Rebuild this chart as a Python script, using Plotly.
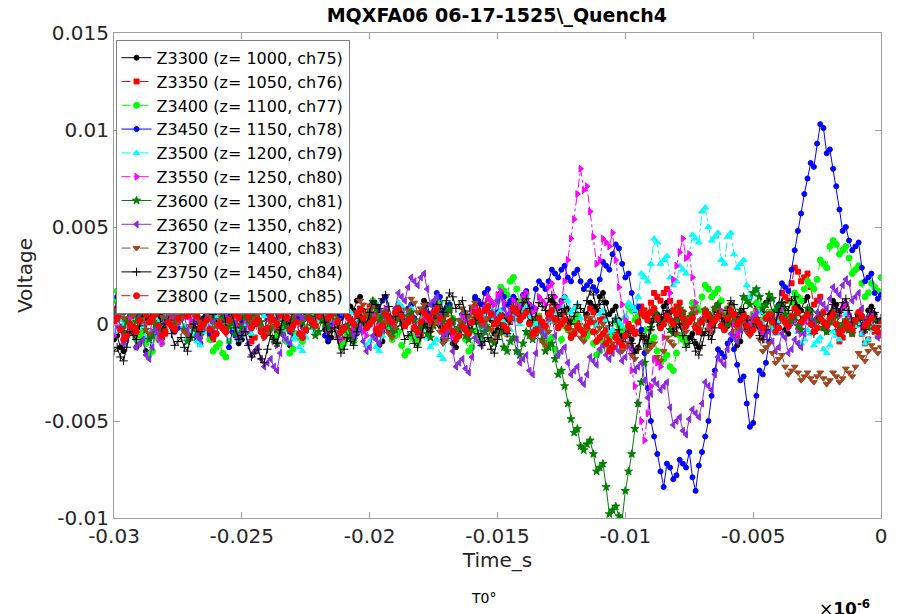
import plotly.graph_objects as go

# sampling: -0.03 s to 0 s, step 0.125 ms
t_start = -0.03
t_step = 0.000125

labels = [
    "Z3300 (z= 1000, ch75)", "Z3350 (z= 1050, ch76)", "Z3400 (z= 1100, ch77)",
    "Z3450 (z= 1150, ch78)", "Z3500 (z= 1200, ch79)", "Z3550 (z= 1250, ch80)",
    "Z3600 (z= 1300, ch81)", "Z3650 (z= 1350, ch82)", "Z3700 (z= 1400, ch83)",
    "Z3750 (z= 1450, ch84)", "Z3800 (z= 1500, ch85)",
]

# voltages in units of 0.1 mV (1e-4 V)
z3300 = [-8, -6, -12, -14, -5, 5, 3, -12, -10, -8, -14, -16, -6, 4, 2, 0, 8, 10, 4, 2,
         10, 12, 6, 4, 12, 14, 8, 1, 3, 5, -4, -6, 2, 11, 9, 3, 5, 7, -3, -10,
         -8, -2, -4, -6, 3, 9, 7, 5, 11, 13, 6, -4, -2, 0, -9, -11, -5, 3, 1, -1,
         6, 12, 10, 2, 4, 6, -3, -9, -7, 1, -1, -3, 5, 11, 9, 7, 12, 14, 7, 0,
         2, 4, -5, -11, -9, -1, -3, -5, 4, 10, 8, 1, 3, 5, -2, -4, 6, 12, 10, 3,
         5, 7, -1, -8, -6, -4, -10, -12, -4, 5, 3, 1, 8, 13, 11, 4, 6, 8, 2, -5,
         -3, 6, 4, 2, 9, 14, 12, 5, 7, 9, 1, -7, -5, 0, -2, -4, 6, 12, 10, 8,
         12, 14, 8, 1, 3, 5, -3, -5, 5, 11, 9, 7, 14, 16, 11, 5, 7, 9, 2, -6,
         -4, -2, -8, -14, -12, -4, -6, -8, 1, 7, 5, 3, 9, 11, 6, 1, 3, 5, -2, -9,
         -7, -5, -10, -12, -5, 4, 2, 0, 7, 9, 4, -3, -1, 1, -6, -11, -9, -1, -3, -5,
         3, 10, 8, 6, 11, 13, 6, 0, 2, 4, -3, -5, 4, 11, 9, 7, 12, 14, 7, 1,
         3, 5, -2, -4, 5, 12, 10, 6, 8, 10, 4, -3, -1, 5, 3, 1, 7, 9, 5, 0, 2]
z3350 = [3, 8, 6, -1, 1, 3, -4, -6, 2, 9, 7, 2, 4, 6, -2, -7, -5, 2, 0, -2,
         5, 11, 9, 4, 6, 8, 2, -5, -3, -1, -6, -8, -1, 6, 4, 2, 8, 10, 5, -1,
         1, 3, -4, -9, -7, 0, -2, -4, 3, 8, 6, 4, 9, 11, 5, -2, 0, 2, -5, -7,
         -3, 4, 2, 0, 7, 9, 4, -3, -1, 1, -6, -10, -8, -1, -3, -5, 2, 8, 6, 4,
         9, 11, 5, -1, 1, 3, -3, -5, 2, 8, 6, 1, 3, 5, -2, -8, -6, 1, -1, -3,
         4, 10, 8, 3, 5, 7, 1, -6, -4, 0, -2, -4, 3, 9, 7, 5, 10, 12, 6, 0,
         2, 4, -3, -5, 1, 7, 5, 3, 9, 11, 6, 0, 2, 4, -2, -4, 3, 9, 7, 2,
         4, 6, 0, -6, -4, 1, -1, -3, 3, 8, 6, 0, 2, 4, -3, -8, -6, -4, -9, -11,
         -6, 0, -2, -4, 3, 9, 7, 5, 11, 16, 14, 12, 16, 18, 12, 7, 9, 11, 6, 1,
         3, 5, -1, -3, 2, 7, 5, 3, 8, 10, 4, -2, 0, 2, -4, -6, -1, 5, 3, 1,
         5, 7, 2, -4, -2, 6, 4, 2, 9, 16, 14, 12, 21, 29, 27, 22, 24, 26, 19, 10,
         12, 14, 6, -1, 1, 3, -4, -9, -7, -1, -3, -5, 2, 4, -5, -10, -8, -2, -4, -6, 1]
z3400 = [12, 17, 15, 6, 8, 10, 3, -8, -6, -4, -10, -16, -14, -6, -8, -10, -3, 6, 4, 2,
         9, 16, 14, 8, 10, 12, 4, -4, -2, 0, -8, -14, -12, -10, -15, -17, -9, -2, -4, -6,
         3, 10, 8, 6, 12, 17, 15, 7, 9, 11, 3, -6, -4, -2, -9, -15, -13, -5, -7, -9,
         -2, 6, 4, 2, 9, 11, 6, -1, 1, 3, -5, -12, -10, -5, -7, -9, -2, 5, 3, 1,
         7, 12, 10, 3, 5, 7, -1, -8, -6, -4, -11, -16, -14, -6, -8, -10, -3, 4, 2, 0,
         6, 13, 11, 6, 8, 10, 3, -5, -3, -1, -8, -14, -12, -4, -6, -8, 1, 9, 7, 5,
         12, 19, 17, 15, 22, 24, 18, 11, 13, 15, 7, 0, 2, 4, -4, -11, -9, -7, -13, -15,
         -8, -1, -3, -5, 2, 4, -2, -8, -6, -4, -10, -16, -14, -9, -11, -13, -6, 1, -1, -3,
         3, 9, 7, 2, 4, 6, -3, -11, -9, -7, -14, -20, -18, -16, -22, -24, -15, -6, -8, -10,
         2, 11, 9, 7, 14, 20, 18, 14, 16, 18, 12, 6, 8, 10, 3, -4, -2, 3, 1, -1,
         5, 11, 9, 2, 4, 6, -1, -3, 3, 9, 7, 5, 11, 16, 14, 12, 18, 22, 20, 18,
         23, 33, 31, 29, 40, 43, 41, 36, 38, 40, 34, 26, 28, 30, 21, 14, 16, 21, 19, 17, 24]
z3450 = [5, 14, 12, 6, 8, 16, 14, 4, 6, 12, 10, 1, 3, 14, 12, 7, 9, 11, 4, -4,
         -2, 8, 6, 4, 10, 1, -8, -10, 2, 4, -5, -7, 7, 9, 3, -4, -12, -4, -6, -8,
         2, 10, 8, 3, 5, 7, -3, -5, 6, 13, 11, 2, 4, 6, -2, -4, 9, 11, 3, -6,
         -4, 4, 2, 0, 7, 9, -6, -8, -1, 7, 5, 3, 10, 12, 3, -7, -5, 4, 2, 0,
         6, 11, 9, 7, 12, 14, 4, -4, -2, 7, 5, 3, 8, 10, 3, -5, -3, 8, 6, 4,
         10, 16, 14, 6, 8, 10, 2, -6, -4, 5, 3, 1, 7, 14, 12, 10, 16, 18, 10, 4,
         6, 16, 14, 10, 12, 14, 8, 6, 15, 17, 10, 8, 18, 22, 20, 18, 22, 28, 26, 24,
         28, 30, 24, 22, 26, 28, 22, 18, 20, 22, 19, 17, 23, 32, 30, 28, 36, 41, 39, 31,
         24, 26, 16, 7, 9, -3, -15, -33, -50, -58, -67, -76, -84, -72, -74, -80, -78, -70, -72, -74,
         -66, -79, -86, -73, -66, -58, -50, -37, -24, -13, -15, -17, -10, -8, -13, -21, -29, -27, -41, -53,
         -51, -37, -24, -26, -20, -9, 2, 0, 10, 21, 19, 17, 28, 38, 48, 57, 67, 75, 83, 81,
         93, 103, 101, 88, 90, 80, 71, 59, 48, 50, 43, 38, 40, 42, 29, 22, 24, 26, 16, 13, 15]
z3500 = [-4, 4, 2, 0, 6, 8, 3, -4, -2, 0, -7, -9, -3, 3, 1, -1, 5, 10, 8, 2,
         4, 6, -1, -7, -5, -3, -9, -11, -4, 2, 0, -2, 4, 9, 7, 1, 3, 5, -2, -8,
         -6, -1, -3, -5, 2, 8, 6, 4, 10, 12, 7, 0, 2, 4, -3, -10, -8, -6, -12, -14,
         -7, 0, -2, -4, 3, 10, 8, 6, 12, 17, 15, 9, 11, 13, 6, -1, 1, 3, -4, -11,
         -9, -7, -12, -14, -6, 2, 0, -2, 5, 11, 9, 4, 6, 8, 2, -5, -3, -1, -7, -12,
         -10, -8, -16, -18, -8, -1, -3, -5, 2, 8, 6, 1, 3, 5, -1, -3, 4, 10, 8, 3,
         5, 7, 1, -5, -3, 4, 2, 0, 7, 9, 4, -2, 0, 2, -4, -6, 1, 8, 6, 4,
         9, 14, 12, 6, 8, 10, 3, -4, -2, 3, 1, -1, 5, 7, 2, -5, -3, 3, 1, -1,
         4, 11, 9, 7, 14, 26, 24, 22, 31, 44, 42, 31, 33, 35, 24, 20, 22, 30, 28, 26,
         36, 46, 44, 42, 58, 60, 50, 43, 45, 47, 33, 31, 45, 47, 36, 29, 31, 33, 20, 14,
         16, 18, 6, 0, 2, 4, -3, -5, 1, 7, 5, 0, 2, 4, -4, -10, -8, -3, -5, -11,
         -9, -7, -13, -15, -11, -4, -6, -8, -2, 5, 3, -3, -1, 1, -5, -10, -8, -1, -3, -5, 2]
z3550 = [-6, -1, -3, -5, 1, 3, -2, -4, 3, 5, 0, -6, -4, -2, -8, -10, -3, 4, 2, -2,
         0, 2, -3, -5, 2, 7, 5, -1, 1, 3, -2, -7, -5, 1, -1, -3, 3, 5, -1, -6,
         -4, 2, 0, -2, 3, 5, -1, -7, -5, -3, -9, -11, -4, 3, 1, -1, 4, 6, 0, -5,
         -3, 4, 2, 0, 5, 7, 1, -4, -2, 0, -6, -8, -2, 4, 2, -3, -1, 1, -4, -6,
         -1, 5, 3, 1, 6, 8, 2, -4, -2, 3, 1, -1, 4, 6, 0, -5, -3, 3, 1, -1,
         4, 6, 1, -5, -3, -1, -6, -8, -2, 4, 2, 0, 6, 8, 3, 1, 8, 14, 12, 10,
         15, 17, 11, 5, 7, 12, 10, 8, 14, 16, 10, 6, 8, 14, 12, 10, 19, 21, 14, 9,
         11, 22, 33, 44, 54, 67, 80, 69, 71, 58, 45, 31, 33, 44, 42, 40, 47, 33, 19, 10,
         2, -11, -24, -32, -41, -50, -60, -46, -32, -18, -20, -22, -7, 5, 16, 23, 30, 37, 44, 34,
         36, 24, 11, 0, 2, 4, -2, -4, 3, 9, 7, 2, 4, 6, 0, -5, -3, 3, 1, -1,
         4, 6, 1, -4, -2, 4, 2, 0, 6, 8, 3, -2, 0, 2, -3, -5, 1, 7, 5, 0,
         2, 4, -1, -3, 3, 8, 6, 4, 9, 11, 5, -1, 1, 3, -2, -4, 2, 6, 4, -1, 1]
z3600 = [4, 6, -2, -4, 1, 8, 6, 1, 3, 5, -3, -8, -6, 0, -2, -4, 2, 7, 5, 0,
         2, 4, -3, -9, -7, -2, -4, -6, 1, 6, 4, 2, 7, 9, 3, -3, -1, 1, -5, -7,
         -2, 4, 2, 0, 5, 7, 1, -6, -4, -2, -8, -10, -5, 1, -1, -3, 3, 8, 6, 1,
         3, 5, -1, -6, -4, 2, 0, -2, 4, 6, 2, -5, -3, -1, -6, -8, -2, 3, 1, -1,
         5, 10, 8, 2, 4, 6, 0, -5, -3, 3, 1, -1, 4, 6, 2, -4, -2, 0, -5, -7,
         -1, 5, 3, 1, 6, 8, 2, -4, -2, 0, -6, -8, -3, 3, 1, -6, -4, -2, -8, -10,
         -6, -4, -12, -14, -9, -7, -14, -16, -10, -4, -6, -8, -4, -2, -8, -14, -12, -10, -18, -26,
         -24, -32, -41, -49, -56, -54, -63, -65, -62, -60, -67, -76, -74, -72, -84, -98, -96, -94, -99, -101,
         -86, -76, -67, -54, -41, -30, -20, -11, -2, 6, 4, -1, 1, 3, -3, -5, 2, 8, 6, 1,
         3, 5, -2, -4, 1, 7, 5, 3, 8, 10, 4, -2, 0, 5, 3, 1, 7, 14, 12, 10,
         16, 18, 14, 8, 10, 15, 13, 7, 9, 11, 5, 0, 2, 4, -1, -3, 3, 8, 6, 0,
         2, 4, -2, -4, 1, 6, 4, -2, 0, 2, -3, -5, 1, 5, 3, -3, -1, 4, 2, -2, 0]
z3650 = [3, 5, -2, -10, -8, -2, -4, -12, -10, -8, -16, -18, -12, -3, -5, -7, 1, 8, 6, 4,
         9, 11, 4, -3, -1, 1, -6, -8, -2, 5, 3, 1, 7, 13, 11, 4, 6, 8, 0, -7,
         -5, -3, -10, -16, -14, -12, -18, -22, -20, -18, -22, -24, -15, -6, -8, -10, -2, 7, 5, 3,
         10, 15, 13, 11, 15, 17, 9, 2, 4, 14, 12, 6, 8, 10, 2, -6, -4, -2, -9, -14,
         -12, -6, -8, -10, -3, 4, 2, 0, 8, 16, 14, 12, 19, 24, 22, 20, 24, 26, 18, 10,
         12, 14, 4, -7, -5, -3, -14, -22, -20, -18, -23, -25, -17, -7, -9, -11, -1, 8, 6, 4,
         12, 14, 8, 4, 6, 8, -8, -20, -18, -16, -24, -26, -15, -2, -4, -6, 3, 5, -6, -16,
         -14, -12, -20, -26, -24, -22, -29, -31, -26, -17, -19, -21, -13, -11, -16, -18, -15, -12, -14, -19,
         -17, -11, -13, -24, -22, -20, -29, -38, -36, -29, -31, -34, -32, -30, -43, -52, -50, -48, -55, -57,
         -49, -44, -46, -48, -41, -30, -32, -34, -26, -17, -19, -21, -13, -5, -7, -9, -3, 2, 0, -2,
         3, 5, -2, -8, -6, -4, -9, -14, -12, -5, -7, -15, -13, -8, -10, -12, -5, 4, 2, 0,
         6, 12, 10, 8, 13, 19, 17, 15, 20, 23, 21, 12, 14, 16, 8, 1, 3, 5, -2, -7, -5]
z3700 = [2, 7, 5, 3, 8, 10, 4, -2, 0, 2, -3, -5, 1, 8, 6, 4, 9, 11, 5, -1,
         1, 3, -4, -6, -1, 5, 3, 1, 7, 9, 4, -2, 0, 2, -3, -5, 2, 8, 6, 4,
         10, 12, 7, 1, 3, 5, -2, -7, -5, 1, -1, -3, 4, 10, 8, 3, 5, 7, 1, -5,
         -3, 3, 1, -1, 5, 11, 9, 4, 6, 8, 2, -4, -2, 4, 2, 0, 6, 12, 10, 5,
         7, 9, 3, -3, -1, 1, -5, -7, -2, 5, 3, 1, 7, 13, 11, 6, 8, 10, 4, -2,
         0, 2, -4, -10, -8, -1, -3, -5, 2, 8, 6, 4, 9, 11, 5, -1, 1, 3, -3, -8,
         -6, 0, -2, -4, 3, 9, 7, 2, 4, 6, 0, -7, -5, -3, -9, -11, -4, 3, 1, -1,
         5, 7, 2, -5, -3, -1, -7, -9, -3, 3, 1, -4, -2, 0, -6, -12, -10, -6, -8, -14,
         -12, -10, -16, -18, -13, -6, -8, -14, -12, -10, -17, -19, -14, -7, -9, -11, -5, 0, -2, -4,
         3, 8, 6, 0, 2, 4, -3, -5, 1, 7, 5, 3, 8, 10, 4, -2, 0, 2, -4, -6,
         -2, 0, -8, -14, -12, -10, -15, -20, -18, -16, -22, -26, -24, -22, -25, -29, -27, -25, -28, -30,
         -27, -25, -28, -31, -29, -25, -27, -30, -28, -23, -25, -27, -22, -15, -17, -19, -14, -11, -13, -15, -12]
z3750 = [-14, -12, -17, -19, -12, -4, -6, -8, -1, 6, 4, 2, 8, 10, 5, -2, 0, 2, -5, -11,
         -9, -7, -12, -14, -7, 0, -2, -4, 3, 9, 7, 5, 11, 13, 8, 1, 3, 5, -2, -8,
         -6, -4, -11, -17, -15, -13, -18, -20, -13, -6, -8, -10, -3, 4, 2, 0, 7, 14, 12, 10,
         15, 17, 11, 4, 6, 8, 1, -6, -4, -2, -8, -15, -13, -7, -9, -11, -4, 3, 1, -1,
         6, 12, 10, 8, 13, 15, 9, 2, 4, 6, -1, -8, -6, -4, -10, -12, -7, 0, -2, -4,
         3, 10, 8, 6, 12, 16, 14, 8, 10, 12, 5, -2, 0, 2, -5, -11, -9, -7, -13, -15,
         -8, -1, -3, -5, 2, 9, 7, 5, 11, 13, 8, 2, 4, 11, 9, 7, 13, 15, 10, 4,
         6, 8, 2, 0, 4, 10, 8, 6, 12, 17, 15, 8, 10, 12, 5, -1, 1, 3, -3, -9,
         -7, -5, -10, -15, -13, -6, -8, -10, -3, 3, 1, -1, 5, 7, 2, -4, -2, 0, -6, -12,
         -10, -8, -14, -16, -11, -4, -6, -8, -2, 5, 3, 1, 7, 12, 10, 4, 6, 8, 2, -4,
         -2, 0, -6, -8, -3, 4, 2, 0, 6, 11, 9, 7, 12, 14, 8, 2, 4, 6, 0, -5,
         -3, 3, 1, -1, 5, 10, 8, 6, 11, 13, 7, 1, 3, 5, -1, -3, 2, 8, 6, 1, 3]
z3800 = [1, 3, -3, -8, -6, 0, -2, -4, 2, 7, 5, 1, 3, 5, -1, -6, -4, 1, -1, -3,
         3, 8, 6, 4, 8, 10, 4, -2, 0, 2, -3, -7, -5, 0, -2, -4, 2, 7, 5, 3,
         7, 9, 4, -2, 0, 2, -4, -6, -2, 4, 2, 0, 5, 7, 3, -3, -1, 1, -5, -7,
         -3, 3, 1, -1, 4, 9, 7, 3, 5, 7, 1, -4, -2, 4, 2, 0, 5, 7, 3, -2,
         0, 2, -3, -5, -1, 5, 3, 1, 6, 8, 4, -1, 1, 3, -2, -4, 1, 6, 4, 2,
         6, 8, 3, -3, -1, 1, -4, -8, -6, -1, -3, -5, 1, 6, 4, 2, 7, 9, 5, 0,
         2, 4, -1, -3, 3, 8, 6, 2, 4, 6, 0, -5, -3, 3, 1, -1, 5, 7, 3, -2,
         0, 2, -2, -7, -5, -1, -3, -5, -1, 1, -4, -9, -7, -5, -10, -14, -12, -7, -9, -11,
         -6, -1, -3, -5, 1, 6, 4, 2, 6, 8, 3, -2, 0, 4, 2, 0, 5, 7, 3, -1,
         1, 3, -2, -4, 1, 6, 4, 0, 2, 4, -1, -3, 3, 7, 5, 0, 2, 4, -1, -5,
         -3, 2, 0, -2, 3, 5, 1, -4, -2, 3, 1, -1, 4, 8, 6, 1, 3, 5, 0, -4,
         -2, 3, 1, -1, 3, 5, 0, -5, -3, 1, -1, -3, 2, 6, 4, -1, 1, 3, -2, -4, 0]

series = [z3300, z3350, z3400, z3450, z3500, z3550, z3600, z3650, z3700, z3750, z3800]

colors = ["#000000", "#ff0000", "#00ff00", "#0000ff", "#00ffff", "#ff00ff",
          "#008000", "#8a2be2", "#a0461e", "#000000", "#ff0000"]
symbols = ["circle", "square", "circle", "circle", "triangle-up", "triangle-right",
           "star", "triangle-left", "triangle-down", "cross-thin-open", "circle"]
dashes = ["solid", "dash", "dash", "solid", "dashdot", "dashdot",
          "solid", "solid", "dash", "solid", "dash"]
sizes = [5, 5, 6, 5, 6, 6, 6, 6, 6, 6, 6]

VOLT_UNIT = 1e-4

fig = go.Figure()
for name, vals, c, s, d, ms in zip(labels, series, colors, symbols, dashes, sizes):
    t = [round(t_start + k * t_step, 7) for k in range(len(vals))]
    fig.add_trace(go.Scatter(
        x=t, y=[v * VOLT_UNIT for v in vals], name=name, mode="lines+markers",
        line=dict(color=c, width=1, dash=d),
        marker=dict(color=c, symbol=s, size=ms, line=dict(color=c, width=1)),
    ))

font_fam = "DejaVu Sans"
axis_col = "#a0a0a0"
txt_col = "#262626"

fig.update_layout(
    width=897, height=606,
    margin=dict(l=106, r=24, t=25, b=96),
    paper_bgcolor="white", plot_bgcolor="white",
    font=dict(family=font_fam, size=20, color=txt_col),
    title=dict(text="<b>MQXFA06 06-17-1525\\_Quench4</b>", x=0.545, xanchor="center",
               y=0.9985, yanchor="top", font=dict(size=19, color="#000000")),
    showlegend=True,
    legend=dict(x=0.002, y=0.986, xanchor="left", yanchor="top",
                bgcolor="white", bordercolor="#7f7f7f", borderwidth=1,
                font=dict(size=16, color="#000000"), itemwidth=30,
                tracegroupgap=0),
    xaxis=dict(range=[-0.03, 0], tickvals=[-0.03, -0.025, -0.02, -0.015, -0.01, -0.005, 0],
               ticktext=["-0.03", "-0.025", "-0.02", "-0.015", "-0.01", "-0.005", "0"],
               showline=True, linecolor=axis_col, linewidth=1, mirror="ticks",
               ticks="inside", ticklen=6, tickcolor=axis_col, showgrid=False, zeroline=False,
               title=dict(text="Time_s", standoff=3, font=dict(size=20))),
    yaxis=dict(range=[-0.01, 0.015], tickvals=[-0.01, -0.005, 0, 0.005, 0.01, 0.015],
               ticktext=["-0.01", "-0.005", "0", "0.005", "0.01", "0.015"],
               showline=True, linecolor=axis_col, linewidth=1, mirror="ticks",
               ticks="inside", ticklen=6, tickcolor=axis_col, showgrid=False, zeroline=False,
               title=dict(text="Voltage", standoff=6, font=dict(size=20))),
    annotations=[
        dict(text="T0°", xref="paper", yref="paper", x=0.482, y=-0.165,
             xanchor="center", yanchor="middle", showarrow=False,
             font=dict(size=14, color="#000000")),
        dict(text="×<b>10<sup>-6</sup></b>", xref="paper", yref="paper", x=0.953, y=-0.186,
             xanchor="center", yanchor="middle", showarrow=False,
             font=dict(size=17, color="#000000")),
    ],
)

fig.write_html("out.html")
